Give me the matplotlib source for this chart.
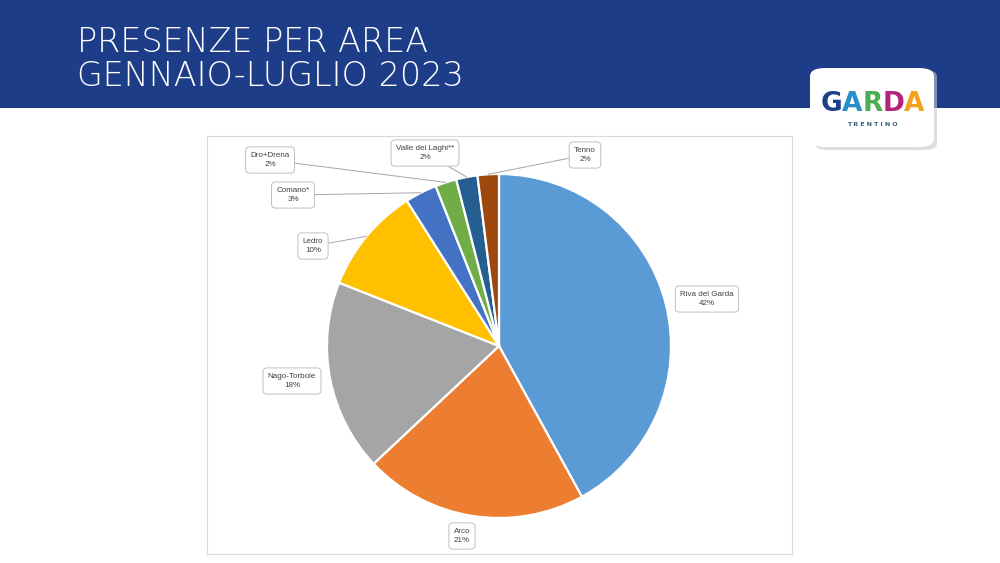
import matplotlib.pyplot as plt
from matplotlib.patches import Rectangle, FancyBboxPatch
import numpy as np

# data
areas = ["Riva del Garda", "Arco", "Nago-Torbole", "Ledro", "Comano*",
         "Dro+Drena", "Valle dei Laghi**", "Tenno"]
shares = [42, 21, 18, 10, 3, 2, 2, 2]
colors = ["#5B9BD5", "#ED7D31", "#A5A5A5", "#FFC000", "#4472C4",
          "#70AD47", "#255E91", "#9E480E"]
# label box centres, in pixels of the 1000x563 picture
label_pos = [(707, 299), (462, 536), (292, 381), (313, 246), (293, 195),
             (270, 160), (425, 153), (585, 155)]
leader = [False, False, False, True, True, True, True, True]

W, H = 1000, 563
fig = plt.figure(figsize=(10, 5.63), dpi=100)
fig.patch.set_facecolor("white")

# header band
fig.patches.append(Rectangle((0, 1 - 108 / H), 1, 108 / H, transform=fig.transFigure,
                             facecolor="#1E3D89", edgecolor="none", zorder=0))
fig.text(77 / W, 1 - 42 / H, "PRESENZE PER AREA", color="white", fontsize=24,
         family="DejaVu Sans", fontweight="light", va="center", ha="left")
fig.text(77 / W, 1 - 77 / H, "GENNAIO-LUGLIO 2023", color="white", fontsize=24,
         family="DejaVu Sans", fontweight="light", va="center", ha="left")

# logo card
fig.patches.append(FancyBboxPatch((815 / W, 1 - 150 / H), 122 / W, 80 / H,
                                  boxstyle="round,pad=0,rounding_size=0.012",
                                  transform=fig.transFigure, facecolor="#C8C8C8",
                                  edgecolor="none", alpha=0.6, zorder=1))
fig.patches.append(FancyBboxPatch((810 / W, 1 - 147 / H), 124 / W, 79 / H,
                                  boxstyle="round,pad=0,rounding_size=0.015",
                                  transform=fig.transFigure, facecolor="white",
                                  edgecolor="none", zorder=2))
logo_letters = ["G", "A", "R", "D", "A"]
logo_colors = ["#1F3F8C", "#2A8FC9", "#4BAE4F", "#B3237E", "#F4A11D"]
for i, (ch, c) in enumerate(zip(logo_letters, logo_colors)):
    fig.text((832 + i * 20.5) / W, 1 - 104 / H, ch, color=c, fontsize=19,
             family="DejaVu Sans", fontweight="heavy", ha="center", va="center", zorder=3)
fig.text(872 / W, 1 - 125 / H, "T R E N T I N O", color="#2F5F7A", fontsize=4.5,
         family="DejaVu Sans", fontweight="bold", ha="center", va="center", zorder=3)

# chart area, data units = pixels (y flipped)
x0, x1, y0, y1 = 207, 792, 136, 554
ax = fig.add_axes([x0 / W, 1 - y1 / H, (x1 - x0) / W, (y1 - y0) / H])

cx, cy, r = 499, H - 346, 172
wedges, _ = ax.pie(shares, colors=colors, startangle=90, counterclock=False,
                   center=(cx, cy), radius=r, frame=True,
                   wedgeprops=dict(edgecolor="white", linewidth=1.6))
ax.set_xlim(x0, x1)
ax.set_ylim(H - y1, H - y0)
ax.set_aspect("equal")
ax.set_xticks([])
ax.set_yticks([])
for s in ax.spines.values():
    s.set_color("#D9D9D9")
    s.set_linewidth(0.8)

for w, name, val, (lx, ly), lead in zip(wedges, areas, shares, label_pos, leader):
    mid = np.deg2rad((w.theta1 + w.theta2) / 2)
    px, py = cx + r * np.cos(mid), cy + r * np.sin(mid)
    ax.annotate(f"{name}\n{val}%", xy=(px, py), xytext=(lx, H - ly),
                ha="center", va="center", fontsize=5.8, color="#404040",
                family="Liberation Sans", linespacing=1.5,
                bbox=dict(boxstyle="round,pad=0.6,rounding_size=0.5",
                          fc="white", ec="#BFBFBF", lw=0.7),
                arrowprops=dict(arrowstyle="-", color="#A6A6A6", lw=0.7,
                                shrinkA=0, shrinkB=0) if lead else None)

fig.savefig("out.png", dpi=100)
